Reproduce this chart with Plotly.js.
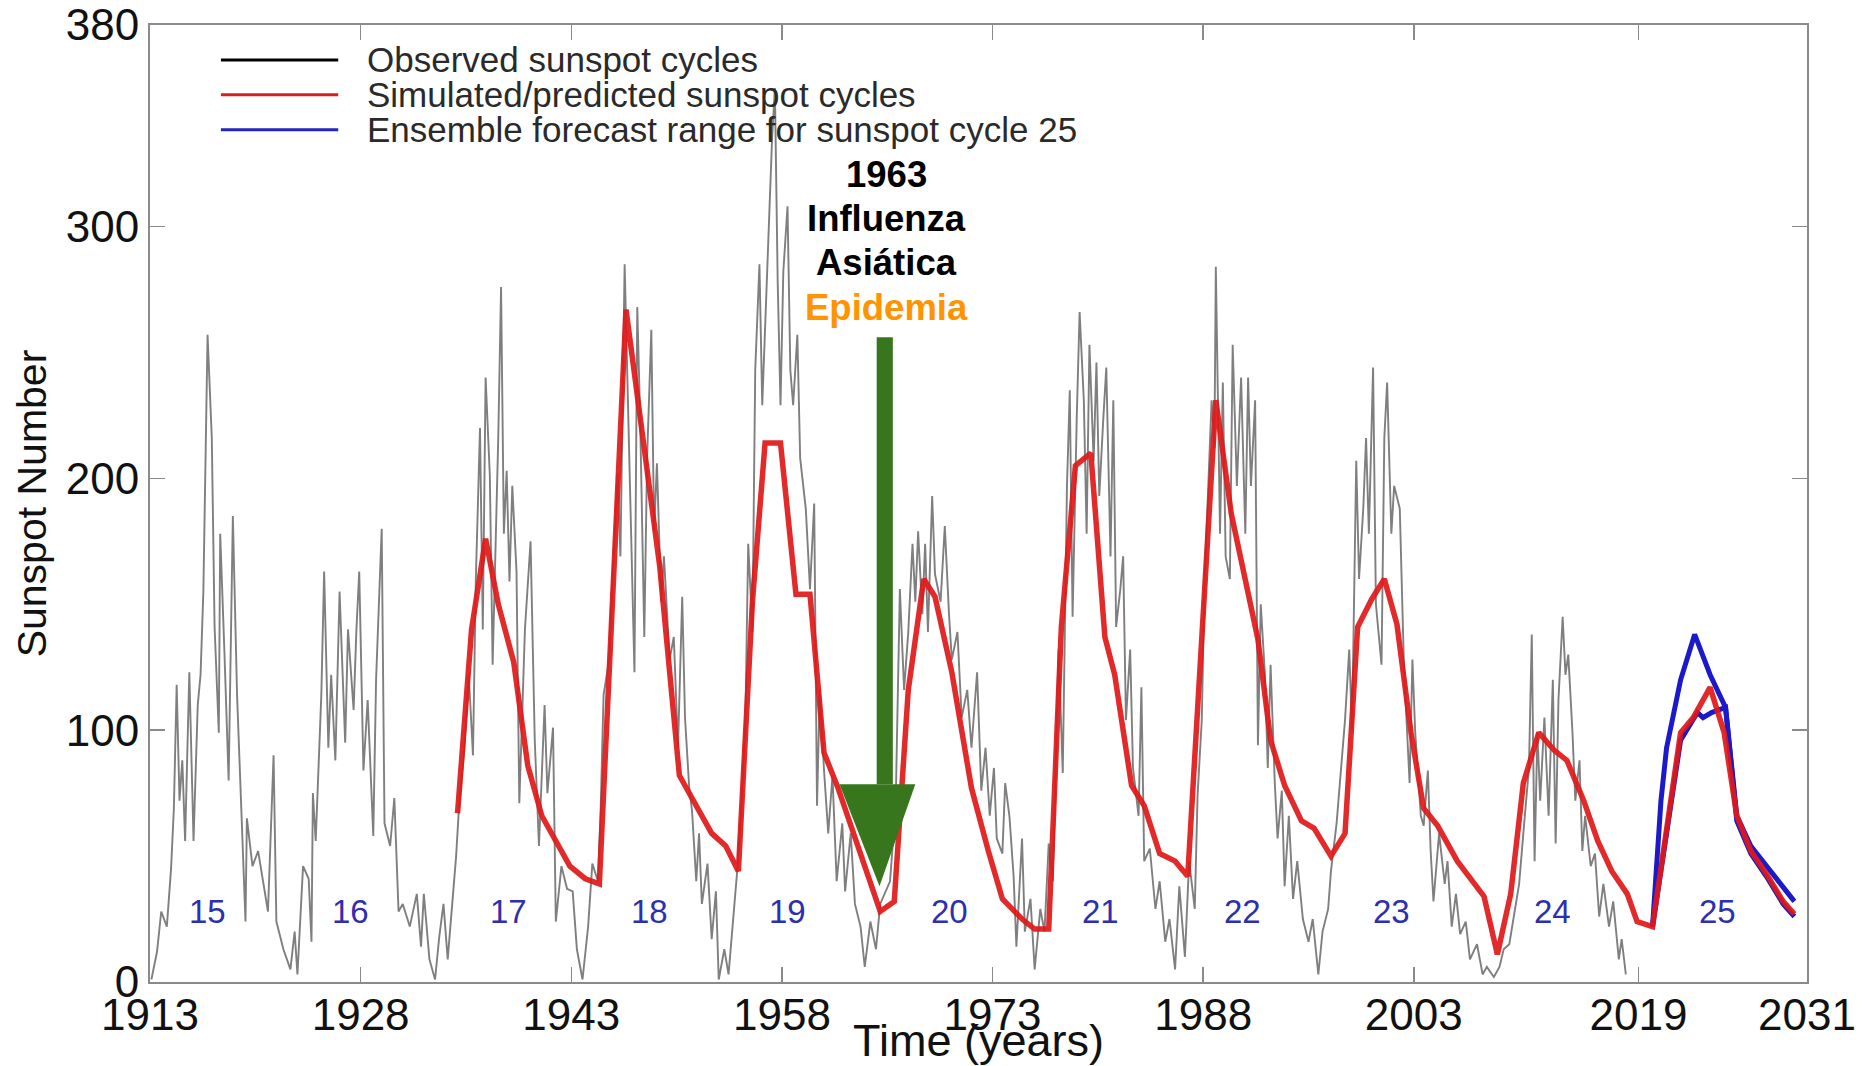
<!DOCTYPE html>
<html>
<head>
<meta charset="utf-8">
<script src="https://cdn.plot.ly/plotly-3.0.1.min.js"></script>
<style>
html,body{margin:0;padding:0;background:#fff;}
#chart{width:1864px;height:1066px;}
</style>
</head>
<body>
<div id="chart"></div>
<script>
// Observed monthly sunspot number
var obsYear = [
1913.1,1913.5,1913.8,1914.2,1914.5,1914.7,1914.9,1915.1,1915.3,1915.5,1915.8,1916.1,1916.4,1916.6,1916.8,1917.1,1917.4,1917.6,1917.9,1918.0,
1918.3,1918.6,1918.9,1919.2,1919.5,1919.8,1919.9,1920.3,1920.7,1921.1,1921.4,1921.8,1922.0,1922.5,1923.0,1923.3,1923.5,1923.9,1924.3,1924.5,
1924.6,1924.8,1925.2,1925.4,1925.7,1925.9,1926.2,1926.5,1926.9,1927.1,1927.5,1927.7,1927.9,1928.2,1928.5,1928.9,1929.1,1929.5,1929.7,1930.1,
1930.4,1930.7,1931.0,1931.5,1932.0,1932.3,1932.5,1932.9,1933.3,1933.6,1933.9,1934.2,1934.6,1934.8,1935.0,1935.4,1935.7,1936.0,1936.2,1936.5,
1936.7,1936.9,1937.2,1937.4,1937.8,1938.0,1938.2,1938.4,1938.6,1938.8,1939.1,1939.3,1939.7,1939.9,1940.1,1940.4,1940.7,1941.1,1941.3,1941.7,
1941.9,1942.3,1942.7,1943.1,1943.4,1943.8,1944.2,1944.5,1944.9,1945.1,1945.3,1945.7,1945.9,1946.3,1946.5,1946.8,1947.0,1947.2,1947.5,1947.7,
1947.9,1948.2,1948.4,1948.7,1948.9,1949.1,1949.4,1949.6,1950.0,1950.3,1950.6,1950.9,1951.1,1951.4,1951.6,1951.9,1952.1,1952.3,1952.7,1953.0,
1953.3,1953.5,1953.9,1954.2,1954.5,1954.8,1955.1,1955.4,1955.6,1955.9,1956.1,1956.4,1956.6,1956.8,1957.1,1957.3,1957.5,1957.7,1957.9,1958.1,
1958.4,1958.6,1958.8,1959.1,1959.3,1959.7,1960.0,1960.3,1960.5,1960.7,1961.0,1961.3,1961.6,1961.9,1962.3,1962.5,1962.9,1963.2,1963.6,1963.9,
1964.3,1964.7,1965.0,1965.4,1965.7,1966.1,1966.4,1966.7,1967.0,1967.3,1967.5,1967.7,1968.0,1968.2,1968.4,1968.7,1968.9,1969.3,1969.6,1969.9,
1970.1,1970.5,1970.8,1971.2,1971.5,1971.9,1972.2,1972.5,1972.8,1973.1,1973.3,1973.7,1973.9,1974.2,1974.5,1974.7,1975.1,1975.3,1975.7,1976.0,
1976.4,1976.7,1977.0,1977.3,1977.7,1978.0,1978.3,1978.5,1978.7,1979.0,1979.2,1979.5,1979.7,1979.9,1980.2,1980.4,1980.6,1980.9,1981.1,1981.4,
1981.6,1981.8,1982.1,1982.3,1982.5,1982.8,1983.0,1983.4,1983.6,1983.8,1984.2,1984.6,1984.9,1985.3,1985.6,1986.0,1986.3,1986.7,1987.0,1987.4,
1987.6,1987.9,1988.1,1988.3,1988.6,1988.8,1988.9,1989.2,1989.4,1989.6,1989.9,1990.1,1990.4,1990.7,1991.0,1991.2,1991.4,1991.7,1991.9,1992.1,
1992.4,1992.6,1992.8,1993.1,1993.3,1993.6,1993.8,1994.1,1994.4,1994.7,1995.1,1995.5,1995.8,1996.2,1996.5,1996.9,1997.1,1997.5,1997.8,1998.1,
1998.4,1998.6,1998.9,1999.1,1999.4,1999.6,1999.8,2000.1,2000.3,2000.7,2000.9,2001.1,2001.4,2001.6,2002.0,2002.3,2002.7,2002.9,2003.1,2003.5,
2003.7,2004.0,2004.2,2004.4,2004.8,2005.2,2005.4,2005.7,2006.0,2006.3,2006.7,2007.0,2007.5,2007.9,2008.2,2008.7,2009.1,2009.4,2009.8,2010.1,
2010.5,2010.8,2011.2,2011.4,2011.6,2011.8,2012.0,2012.3,2012.6,2012.9,2013.1,2013.3,2013.6,2013.8,2014.0,2014.3,2014.5,2014.8,2015.0,2015.2,
2015.6,2015.9,2016.2,2016.5,2016.9,2017.2,2017.6,2017.8,2018.1
];
var obsValue = [
1,12,28,22,45,69,118,72,88,56,123,56,110,122,155,257,216,141,99,178,
131,80,185,114,69,24,65,46,52,39,28,90,24,13,5,20,3,46,41,16,
75,56,114,163,93,122,88,155,95,140,108,140,163,84,112,58,120,180,63,54,
73,28,31,22,35,14,35,9,1,18,31,9,37,50,69,93,122,90,159,220,
140,240,201,126,216,276,178,203,159,197,163,71,140,159,175,96,54,110,75,101,
24,46,37,36,13,1,22,47,40,70,114,128,156,202,169,285,238,183,123,268,
225,137,208,259,179,206,151,169,128,137,93,153,105,77,68,40,59,31,47,17,
36,1,13,3,24,43,68,105,174,139,243,285,229,259,301,335,355,278,229,282,
308,243,229,257,208,188,156,190,70,116,84,59,82,40,63,36,59,31,22,6,
24,13,31,36,40,70,156,116,139,174,151,179,146,174,139,193,162,151,181,146,
128,139,105,116,93,123,76,93,66,85,57,51,79,66,42,14,57,20,33,5,
29,20,55,40,132,83,197,235,145,225,266,231,178,253,207,246,193,225,244,169,
231,141,156,169,104,132,85,66,117,48,53,29,40,16,25,5,38,10,48,29,
74,104,160,188,231,212,284,178,238,169,160,253,197,240,178,240,197,231,94,150,
122,85,126,79,57,76,38,66,33,48,25,16,25,3,20,29,44,63,85,104,
132,100,207,160,188,216,178,244,150,126,216,238,178,197,188,125,79,128,99,66,
62,84,52,32,59,39,48,22,35,19,24,9,15,3,6,2,6,13,15,26,
39,59,85,138,48,99,72,105,66,120,55,112,145,122,130,99,72,88,52,66,
46,51,26,39,22,32,9,17,3
];

// Simulated / predicted sunspot cycles (red)
var simYear = [
1934.9,1935.9,1936.9,1937.8,1938.9,1939.9,1940.9,1941.9,1942.9,1944.0,1945.0,
1946.9,1948.1,1949.3,1950.7,1951.9,1953.0,1954.0,1954.9,1955.9,1956.8,1957.9,1959.0,1960.0,1961.0,1962.0,1963.5,1965.0,1966.0,
1967.0,1968.1,1968.9,1970.1,1971.5,1972.7,1973.7,1975.1,1976.0,1977.0,1977.9,1978.9,1980.0,1981.0,1981.7,1982.9,1983.8,1984.9,
1986.0,1986.9,1988.9,1990.0,1991.0,1991.9,1992.8,1993.8,1995.0,1995.9,1997.1,1998.1,1999.0,2000.0,2000.9,2001.8,2002.8,2003.7,
2004.7,2006.1,2008.0,2008.95,2009.9,2010.8,2011.9,2013.0,2013.9,2015.1,2016.1,2017.1,2018.2,2018.9,2020.0,2021.0,2022.0,2022.9,
2024.1,2025.1,2026.0,2027.0,2028.1,2029.3,2030.1
];
var simValue = [
67,140,176,150,127,86,66,56,46,41,39,
267,215,165,82,70,59,54,44,151,214,214,154,154,91,77,52,28,32,
116,160,153,123,77,52,33,25,21,21,141,205,210,137,122,78,70,51,
48,42,231,186,160,136,96,78,64,61,50,59,141,152,160,142,99,69,
62,48,34,11,35,79,99,92,88,72,56,44,35,24,22,59,99,105,
117,99,66,52,43,32,27
];

// Ensemble forecast range for cycle 25 (blue)
var ensYear = [2020.0,2020.6,2021.0,2022.0,2023.0,2024.1,2025.2,2026.0,2027.0,2028.1,2029.3,2030.1];
var ensUpper = [22,72,93,120,138,122,109,66,54,46,38,32];
var ensLowYear = [2020.0,2021.0,2022.0,2023.2,2023.6,2024.2,2025.2,2026.0,2027.0,2028.1,2029.3,2030.1];
var ensLower = [22,60,96,107,105,107,109,64,51,42,31,26];

// Cycle labels
var cycleNames = ["15","16","17","18","19","20","21","22","23","24","25"];
var cycleX = [1917.1,1927.3,1938.5,1948.6,1958.4,1969.9,1980.7,1990.8,2001.4,2012.9,2024.6];
var cycleY = 28;

// Axis ticks
var xTicks = [1913,1928,1943,1958,1973,1988,2003,2019,2031];
var yTicks = [0,100,200,300,380];

// Legend entries
var legendNames = ["Observed sunspot cycles","Simulated/predicted sunspot cycles","Ensemble forecast range for sunspot cycle 25"];
var legendColors = ["#000000","#d42020","#2424c0"];

// Callout text
var calloutLines = ["1963","Influenza","Asiática","Epidemia"];
var calloutColors = ["#000000","#000000","#000000","#ff9400"];
var calloutX = 1965.45;
var calloutY = [320.5,303,285.5,268];
var arrowShaft = {x0:1964.75, x1:1965.9, yTop:256, yBase:78.5};
var arrowHead = {xl:1962.1, xr:1967.5, xTip:1964.95, yTip:38};

var FONT = '"Liberation Sans", Arial, Helvetica, sans-serif';

var traces = [
  {x: obsYear, y: obsValue, type:'scatter', mode:'lines', name: legendNames[0],
   line:{color:'#7f7f7f', width:1.9}, showlegend:false, hoverinfo:'x+y'},
  {x: ensYear, y: ensUpper, type:'scatter', mode:'lines', name: legendNames[2],
   line:{color:'#1a1acb', width:5}, showlegend:false},
  {x: ensLowYear, y: ensLower, type:'scatter', mode:'lines', name: legendNames[2]+' (lower)',
   line:{color:'#1a1acb', width:5}, showlegend:false},
  {x: simYear, y: simValue, type:'scatter', mode:'lines', name: legendNames[1],
   line:{color:'#e01818', width:5.5}, opacity:0.92, showlegend:false}
];

var annotations = [];
var shapes = [];

cycleNames.forEach(function(c,i){
  annotations.push({x: cycleX[i], y: cycleY, xref:'x', yref:'y', text:c, showarrow:false,
    font:{family:FONT, size:33, color:'#2e2eb0'}});
});

calloutLines.forEach(function(t,i){
  annotations.push({x: calloutX, y: calloutY[i], xref:'x', yref:'y', text:'<b>'+t+'</b>', showarrow:false,
    font:{family:FONT, size:36.5, color: calloutColors[i]}});
});

// Manual legend (long line samples as in the original)
var legY = [0.9635, 0.927, 0.8905];
legendNames.forEach(function(n,i){
  shapes.push({type:'line', xref:'paper', yref:'paper', x0:0.0428, x1:0.1136, y0:legY[i], y1:legY[i],
    line:{color:legendColors[i], width:3}});
  annotations.push({x:0.130, y:legY[i], xref:'paper', yref:'paper', text:n, showarrow:false,
    xanchor:'left', yanchor:'middle', font:{family:FONT, size:35, color:'#2a2a2a'}});
});

// Green arrow
shapes.push({type:'rect', xref:'x', yref:'y', x0:arrowShaft.x0, x1:arrowShaft.x1, y0:arrowShaft.yBase, y1:arrowShaft.yTop,
  fillcolor:'#38761d', line:{width:0}});
shapes.push({type:'path', xref:'x', yref:'y',
  path:'M '+arrowHead.xl+','+arrowShaft.yBase+' L '+arrowHead.xr+','+arrowShaft.yBase+' L '+arrowHead.xTip+','+arrowHead.yTip+' Z',
  fillcolor:'#38761d', line:{width:0}});

var axisCommon = {
  showgrid:false, zeroline:false, ticks:'inside', ticklen:15, tickwidth:1.5, tickcolor:'#8a8a8a',
  showline:true, linecolor:'#8a8a8a', linewidth:2, mirror:'ticks',
  tickfont:{family:FONT, size:44, color:'#111111'}
};

var layout = {
  width:1864, height:1066,
  margin:{l:150, r:57, t:25, b:84, pad:0},
  paper_bgcolor:'#ffffff', plot_bgcolor:'#ffffff',
  showlegend:false,
  xaxis: Object.assign({}, axisCommon, {
    range:[1913,2031], tickmode:'array', tickvals:xTicks, ticktext:xTicks.map(String),
    ticklabelstandoff:-7,
    title:{text:'Time (years)', font:{family:FONT, size:45, color:'#111111'}, standoff:10}
  }),
  yaxis: Object.assign({}, axisCommon, {
    range:[0,380], tickmode:'array', tickvals:yTicks, ticktext:yTicks.map(String),
    title:{text:'Sunspot Number', font:{family:FONT, size:41, color:'#111111'}, standoff:6}
  }),
  annotations: annotations,
  shapes: shapes
};

Plotly.newPlot('chart', traces, layout, {displayModeBar:false, staticPlot:true});
</script>
</body>
</html>
